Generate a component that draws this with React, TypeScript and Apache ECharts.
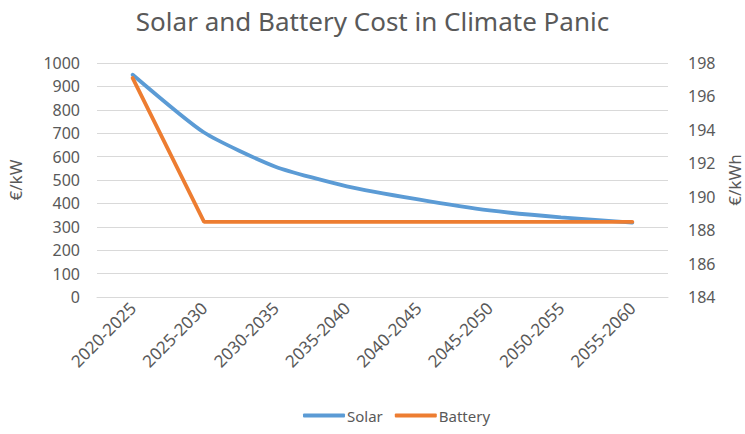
import React, { useEffect, useRef } from "react";
import * as echarts from "echarts";

const categories = ["2020-2025", "2025-2030", "2030-2035", "2035-2040", "2040-2045", "2045-2050", "2050-2055", "2055-2060"];
const solar = [950, 703, 557, 473, 417, 370, 340, 318];
const battery = [197.1, 188.5, 188.5, 188.5, 188.5, 188.5, 188.5, 188.5];

const FONT = "Noto Sans";
const TXT = "#595959";

export default function App() {
  const ref = useRef<HTMLDivElement>(null);
  useEffect(() => {
    const chart = echarts.init(ref.current!, null, { renderer: "svg" });
    chart.setOption({
      animation: false,
      backgroundColor: "#ffffff",
      textStyle: { fontFamily: FONT },
      title: {
        text: "Solar and Battery Cost in Climate Panic",
        left: "center",
        top: 3,
        textStyle: { fontFamily: FONT, fontSize: 26, fontWeight: "normal", color: TXT },
      },
      grid: { left: 97, right: 77, top: 63, bottom: 137, outerBoundsMode: "none" },
      legend: {
        top: 403,
        left: 298,
        itemWidth: 42,
        itemHeight: 4,
        itemGap: 12,
        icon: "roundRect",
        textStyle: { fontFamily: FONT, fontSize: 15, color: TXT, padding: [0, 0, 0, -3] },
        data: ["Solar", "Battery"],
      },
      xAxis: {
        type: "category",
        data: categories,
        axisTick: { show: false },
        axisLine: { lineStyle: { color: "#D9D9D9" } },
        axisLabel: { rotate: 45, fontFamily: FONT, fontSize: 17, color: TXT, margin: 8, interval: 0 },
      },
      yAxis: [
        {
          type: "value",
          min: 0,
          max: 1000,
          interval: 100,
          name: "€/kW",
          nameLocation: "middle",
          nameGap: 73,
          nameTextStyle: { fontFamily: FONT, fontSize: 17, color: TXT },
          axisLabel: { fontFamily: FONT, fontSize: 16, color: TXT, margin: 17, formatter: (v: number) => String(v) },
          splitLine: { lineStyle: { color: "#D9D9D9" } },
        },
        {
          type: "value",
          min: 184,
          max: 198,
          interval: 2,
          name: "€/kWh",
          nameLocation: "middle",
          nameGap: 57,
          nameTextStyle: { fontFamily: FONT, fontSize: 17, color: TXT },
          axisLabel: { fontFamily: FONT, fontSize: 16, color: TXT, margin: 20 },
          splitLine: { show: false },
        },
      ],
      series: [
        {
          name: "Solar",
          type: "line",
          data: solar,
          yAxisIndex: 0,
          smooth: 0.2,
          symbol: "none",
          lineStyle: { width: 3.8, color: "#5B9BD5", cap: "round" },
          itemStyle: { color: "#5B9BD5" },
        },
        {
          name: "Battery",
          type: "line",
          data: battery,
          yAxisIndex: 1,
          symbol: "none",
          lineStyle: { width: 3.8, color: "#ED7D31", cap: "round" },
          itemStyle: { color: "#ED7D31" },
        },
      ],
    });
    return () => chart.dispose();
  }, []);
  return <div ref={ref} style={{ width: 745, height: 434, position: "absolute", left: 0, top: 0 }} />;
}
